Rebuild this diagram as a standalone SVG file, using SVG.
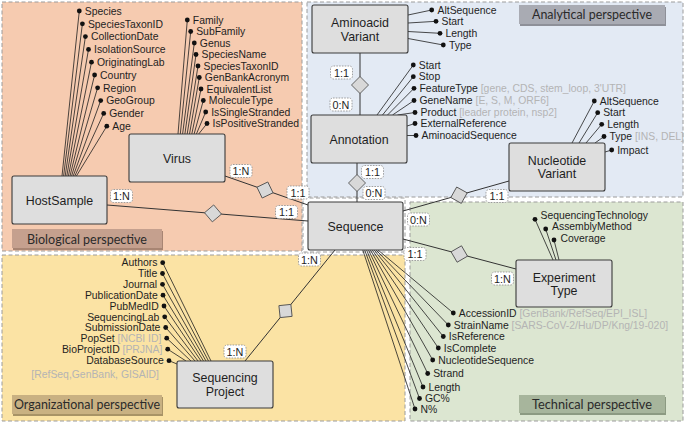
<svg xmlns="http://www.w3.org/2000/svg" width="685" height="423" viewBox="0 0 685 423">
<style>
text{font-family:"Liberation Sans",Arial,sans-serif;fill:#1e1e1e}
.reg{stroke:#9c9c9c;stroke-width:1;stroke-dasharray:4 2.5}
.box{fill:#dedede;stroke:#3a3a3a;stroke-width:1.1}
.nl{font-size:12.4px;text-anchor:middle}
.at{font-size:10.4px}
.atr{font-size:10.4px;text-anchor:end}
.g{fill:#b4b4b4}
.al{stroke:#1e1e1e;stroke-width:0.8;fill:none}
.cn{stroke:#333;stroke-width:1;fill:none}
.dot{fill:#111}
.card use{fill:#fff;stroke:#8a8a8a;stroke-width:0.8;stroke-dasharray:1.6 1.2}
.card text{font-size:10.8px;text-anchor:middle}
.dia{fill:#d8d8d8;stroke:#555;stroke-width:0.9;stroke-linejoin:round}
.pl{font-family:Lato,"Open Sans",sans-serif;font-size:13px;text-anchor:middle;fill:#2a2a2a}
</style>
<defs>
<path id="dm" d="M-8.5,0 L0,-8.5 L8.5,0 L0,8.5 Z"/>
<rect id="c1" x="-11" y="-6.5" width="22" height="13" rx="3"/>
</defs>

<g id="regions">
<rect class="reg" x="2" y="2" width="300" height="249" fill="#f6cbb0"/>
<rect class="reg" x="307" y="2" width="376" height="195" fill="#e3eaf4"/>
<rect class="reg" x="410" y="202" width="273" height="219" fill="#dce6d1"/>
<rect class="reg" x="2" y="255" width="403" height="166" fill="#fbe3a4"/>
<rect class="reg" x="303" y="198" width="102" height="54" fill="#ffffff"/>
</g>

<g id="perspective-labels">
<rect x="13" y="231" width="150" height="19" fill="#a88573"/>
<rect x="12" y="229" width="150" height="19" fill="#c5a08e"/>
<text class="pl" x="87" y="243.5" textLength="120" lengthAdjust="spacingAndGlyphs">Biological perspective</text>
<rect x="13" y="397" width="150" height="19" fill="#a89366"/>
<rect x="12" y="395" width="150" height="19" fill="#c9b182"/>
<text class="pl" x="87" y="409" textLength="146" lengthAdjust="spacingAndGlyphs">Organizational perspective</text>
<rect x="520" y="7" width="146" height="19" fill="#8e9098"/>
<rect x="519" y="5" width="146" height="19" fill="#a9abb3"/>
<text class="pl" x="592" y="19" textLength="120" lengthAdjust="spacingAndGlyphs">Analytical perspective</text>
<rect x="520" y="397" width="146" height="18" fill="#8c9a82"/>
<rect x="519" y="395" width="146" height="18" fill="#a7b59c"/>
<text class="pl" x="592" y="408.5" textLength="120" lengthAdjust="spacingAndGlyphs">Technical perspective</text>
</g>

<g id="connectors">
<line class="cn" x1="107" y1="205" x2="308" y2="221"/>
<line class="cn" x1="225" y1="176" x2="308" y2="205"/>
<line class="cn" x1="360" y1="53" x2="360" y2="115"/>
<line class="cn" x1="357" y1="163" x2="357" y2="202"/>
<line class="cn" x1="403" y1="211" x2="509" y2="181"/>
<line class="cn" x1="403" y1="239" x2="516" y2="269"/>
<line class="cn" x1="335" y1="250" x2="245" y2="361"/>
<use href="#dm" class="dia" transform="translate(213,213.4) rotate(4.6)"/>
<use href="#dm" class="dia" transform="translate(265,190) rotate(19.3)"/>
<use href="#dm" class="dia" transform="translate(360,85)"/>
<use href="#dm" class="dia" transform="translate(357,183)"/>
<use href="#dm" class="dia" transform="translate(459,195.2) rotate(-15.8)"/>
<use href="#dm" class="dia" transform="translate(459.3,254) rotate(14.9)"/>
<use href="#dm" class="dia" transform="translate(285.5,311) rotate(-51)"/>
<g class="card" transform="translate(121.5,196)"><use href="#c1"/><text y="4">1:N</text></g>
<g class="card" transform="translate(286.5,212)"><use href="#c1"/><text y="4">1:1</text></g>
<g class="card" transform="translate(241,171)"><use href="#c1"/><text y="4">1:N</text></g>
<g class="card" transform="translate(298,192.5)"><use href="#c1"/><text y="4">1:1</text></g>
<g class="card" transform="translate(341.5,72.5)"><use href="#c1"/><text y="4">1:1</text></g>
<g class="card" transform="translate(341,104.5)"><use href="#c1"/><text y="4">0:N</text></g>
<g class="card" transform="translate(372.5,172)"><use href="#c1"/><text y="4">1:1</text></g>
<g class="card" transform="translate(374,193)"><use href="#c1"/><text y="4">0:N</text></g>
<g class="card" transform="translate(497,196)"><use href="#c1"/><text y="4">1:1</text></g>
<g class="card" transform="translate(418.5,219.5)"><use href="#c1"/><text y="4">0:N</text></g>
<g class="card" transform="translate(415,254)"><use href="#c1"/><text y="4">1:1</text></g>
<g class="card" transform="translate(502.5,278.5)"><use href="#c1"/><text y="4">1:N</text></g>
<g class="card" transform="translate(309.5,259.5)"><use href="#c1"/><text y="4">1:N</text></g>
<g class="card" transform="translate(235,351.5)"><use href="#c1"/><text y="4">1:N</text></g>
</g>

<g id="HostSample">
<path class="al" d="M79.3,11L62,176M82.4,23.8L63.6,176M85.4,36.6L65.2,176M88.5,49.4L66.8,176M91.5,62.2L68.4,176M94.6,75L70,176M97.6,87.8L71.6,176M100.7,100.6L73.2,176M103.7,113.4L74.8,176M106.8,126.2L76.4,176"/>
<g class="dot">
<circle cx="79.3" cy="11" r="2.4"/><circle cx="82.4" cy="23.8" r="2.4"/><circle cx="85.4" cy="36.6" r="2.4"/><circle cx="88.5" cy="49.4" r="2.4"/><circle cx="91.5" cy="62.2" r="2.4"/><circle cx="94.6" cy="75" r="2.4"/><circle cx="97.6" cy="87.8" r="2.4"/><circle cx="100.7" cy="100.6" r="2.4"/><circle cx="103.7" cy="113.4" r="2.4"/><circle cx="106.8" cy="126.2" r="2.4"/>
</g>
<text class="at" x="84.8" y="14.7">Species</text>
<text class="at" x="87.9" y="27.5">SpeciesTaxonID</text>
<text class="at" x="90.9" y="40.3">CollectionDate</text>
<text class="at" x="94" y="53.1">IsolationSource</text>
<text class="at" x="97" y="65.9">OriginatingLab</text>
<text class="at" x="100.1" y="78.7">Country</text>
<text class="at" x="103.1" y="91.5">Region</text>
<text class="at" x="106.2" y="104.3">GeoGroup</text>
<text class="at" x="109.2" y="117.1">Gender</text>
<text class="at" x="112.3" y="129.9">Age</text>
<rect class="box" x="12" y="176" width="95" height="48" rx="2"/>
<text class="nl" x="59.5" y="204.5">HostSample</text>
</g>

<g id="Virus">
<path class="al" d="M187.3,20L178,134M190.7,31.5L180.3,134M194.3,43L182.6,134M196,54.5L184.9,134M198,66L187.2,134M199.3,77.5L189.5,134M201,89L191.8,134M203.3,100.5L194.1,134M205.7,112L196.4,134M207,123.5L198.7,134"/>
<g class="dot">
<circle cx="187.3" cy="20" r="2.4"/><circle cx="190.7" cy="31.5" r="2.4"/><circle cx="194.3" cy="43" r="2.4"/><circle cx="196" cy="54.5" r="2.4"/><circle cx="198" cy="66" r="2.4"/><circle cx="199.3" cy="77.5" r="2.4"/><circle cx="201" cy="89" r="2.4"/><circle cx="203.3" cy="100.5" r="2.4"/><circle cx="205.7" cy="112" r="2.4"/><circle cx="207" cy="123.5" r="2.4"/>
</g>
<text class="at" x="192.8" y="23.7">Family</text>
<text class="at" x="196.2" y="35.2">SubFamily</text>
<text class="at" x="199.8" y="46.7">Genus</text>
<text class="at" x="201.5" y="58.2">SpeciesName</text>
<text class="at" x="203.5" y="69.7">SpeciesTaxonID</text>
<text class="at" x="204.8" y="81.2">GenBankAcronym</text>
<text class="at" x="206.5" y="92.7">EquivalentList</text>
<text class="at" x="208.8" y="104.2">MoleculeType</text>
<text class="at" x="211.2" y="115.7">IsSingleStranded</text>
<text class="at" x="212.5" y="127.2">IsPositiveStranded</text>
<rect class="box" x="129" y="134" width="96" height="48" rx="2"/>
<text class="nl" x="177" y="162.5">Virus</text>
</g>

<g id="AminoacidVariant">
<path class="al" d="M408,15L431.7,10M408,23L436,21.3M408,31.5L440,33.3M408,38.5L443.3,45"/>
<g class="dot"><circle cx="431.7" cy="10" r="2.4"/><circle cx="436" cy="21.3" r="2.4"/><circle cx="440" cy="33.3" r="2.4"/><circle cx="443.3" cy="45" r="2.4"/></g>
<text class="at" x="437.5" y="13.7">AltSequence</text>
<text class="at" x="441.5" y="25">Start</text>
<text class="at" x="445.5" y="37">Length</text>
<text class="at" x="449" y="48.7">Type</text>
<rect class="box" x="312" y="5" width="96" height="48" rx="2"/>
<text class="nl" x="360" y="27">Aminoacid</text>
<text class="nl" x="360" y="40.5">Variant</text>
</g>

<g id="Annotation">
<path class="al" d="M413.3,65L377,115M413.3,76.7L382.5,115M414,88.3L387.5,115M414,100.5L392.5,115M415,112.5L397.5,115M407,126L415,123.5M407,135.5L416,135.5"/>
<g class="dot"><circle cx="413.3" cy="65" r="2.4"/><circle cx="413.3" cy="76.7" r="2.4"/><circle cx="414" cy="88.3" r="2.4"/><circle cx="414" cy="100.5" r="2.4"/><circle cx="415" cy="112.5" r="2.4"/><circle cx="415" cy="123.5" r="2.4"/><circle cx="416" cy="135.5" r="2.4"/></g>
<text class="at" x="418.8" y="68.7">Start</text>
<text class="at" x="418.8" y="80.4">Stop</text>
<text class="at" x="419.5" y="92">FeatureType <tspan class="g">[gene, CDS, stem_loop, 3'UTR]</tspan></text>
<text class="at" x="419.5" y="104.2">GeneName <tspan class="g">[E, S, M, ORF6]</tspan></text>
<text class="at" x="420.5" y="116.2">Product <tspan class="g">[leader protein, nsp2]</tspan></text>
<text class="at" x="420.5" y="127.2">ExternalReference</text>
<text class="at" x="421.5" y="139.2">AminoacidSequence</text>
<rect class="box" x="311" y="115" width="96" height="48" rx="2"/>
<text class="nl" x="359" y="143.5">Annotation</text>
</g>

<g id="NucleotideVariant">
<path class="al" d="M594.3,101L572,143M597.7,112.7L579,143M601.7,124.3L586,143M604,136.5L595,143M605,152L611.7,150"/>
<g class="dot"><circle cx="594.3" cy="101" r="2.4"/><circle cx="597.7" cy="112.7" r="2.4"/><circle cx="601.7" cy="124.3" r="2.4"/><circle cx="604" cy="136.5" r="2.4"/><circle cx="611.7" cy="150" r="2.4"/></g>
<text class="at" x="599.8" y="104.7">AltSequence</text>
<text class="at" x="603.2" y="116.4">Start</text>
<text class="at" x="607.2" y="128">Length</text>
<text class="at" x="609.5" y="140.2">Type <tspan class="g">[INS, DEL]</tspan></text>
<text class="at" x="617.2" y="153.7">Impact</text>
<rect class="box" x="509" y="143" width="96" height="48" rx="2"/>
<text class="nl" x="557" y="164.5">Nucleotide</text>
<text class="nl" x="557" y="178">Variant</text>
</g>

<g id="Sequence">
<path class="al" d="M453.3,313L378,250M448.3,325L376.1,250M443.3,336.5L374.2,250M438.3,348L372.3,250M432.7,360L370.4,250M427.7,373.5L368.5,250M423,387L366.6,250M419.5,398.5L364.7,250M415,409L362.8,250"/>
<g class="dot"><circle cx="453.3" cy="313" r="2.4"/><circle cx="448.3" cy="325" r="2.4"/><circle cx="443.3" cy="336.5" r="2.4"/><circle cx="438.3" cy="348" r="2.4"/><circle cx="432.7" cy="360" r="2.4"/><circle cx="427.7" cy="373.5" r="2.4"/><circle cx="423" cy="387" r="2.4"/><circle cx="419.5" cy="398.5" r="2.4"/><circle cx="415" cy="409" r="2.4"/></g>
<text class="at" x="458.8" y="316.7">AccessionID <tspan class="g">[GenBank/RefSeq/EPI_ISL]</tspan></text>
<text class="at" x="453.8" y="328.7">StrainName <tspan class="g">[SARS-CoV-2/Hu/DP/Kng/19-020]</tspan></text>
<text class="at" x="448.8" y="340.2">IsReference</text>
<text class="at" x="443.8" y="351.7">IsComplete</text>
<text class="at" x="438.2" y="363.7">NucleotideSequence</text>
<text class="at" x="433.2" y="377.2">Strand</text>
<text class="at" x="428.5" y="390.7">Length</text>
<text class="at" x="425" y="402.2">GC%</text>
<text class="at" x="420.5" y="412.7">N%</text>
<rect class="box" x="308" y="202" width="95" height="48" rx="2"/>
<text class="nl" x="355.5" y="230.5">Sequence</text>
</g>

<g id="ExperimentType">
<path class="al" d="M535,219.3L553,260M545.7,229L556,260M554,240L559,260"/>
<g class="dot"><circle cx="535" cy="219.3" r="2.4"/><circle cx="545.7" cy="229" r="2.4"/><circle cx="554" cy="240" r="2.4"/></g>
<text class="at" x="540.5" y="218.7">SequencingTechnology</text>
<text class="at" x="552" y="230.4">AssemblyMethod</text>
<text class="at" x="560.5" y="242">Coverage</text>
<rect class="box" x="516" y="260" width="96" height="47" rx="2"/>
<text class="nl" x="564" y="281.5">Experiment</text>
<text class="nl" x="564" y="295">Type</text>
</g>

<g id="SequencingProject">
<path class="al" d="M162.7,262.7L211,361M162.5,273.5L208.5,361M162.5,284.3L206,361M163,295.2L203.5,361M164,306L201,361M164.7,316.8L198,361M165.7,327.5L195,361M166.7,338.2L191,361M167.7,349.2L186,361M169,360.7L177,364"/>
<g class="dot"><circle cx="162.7" cy="262.7" r="2.4"/><circle cx="162.5" cy="273.5" r="2.4"/><circle cx="162.5" cy="284.3" r="2.4"/><circle cx="163" cy="295.2" r="2.4"/><circle cx="164" cy="306" r="2.4"/><circle cx="164.7" cy="316.8" r="2.4"/><circle cx="165.7" cy="327.5" r="2.4"/><circle cx="166.7" cy="338.2" r="2.4"/><circle cx="167.7" cy="349.2" r="2.4"/><circle cx="169" cy="360.7" r="2.4"/></g>
<text class="atr" x="157.4" y="266.4">Authors</text>
<text class="atr" x="157.2" y="277.2">Title</text>
<text class="atr" x="157.2" y="288">Journal</text>
<text class="atr" x="157.7" y="298.9">PublicationDate</text>
<text class="atr" x="158.7" y="309.7">PubMedID</text>
<text class="atr" x="159.4" y="320.5">SequencingLab</text>
<text class="atr" x="160.4" y="331.2">SubmissionDate</text>
<text class="atr" x="161.4" y="341.9">PopSet <tspan class="g">[NCBI ID]</tspan></text>
<text class="atr" x="162.4" y="352.9">BioProjectID <tspan class="g">[PRJNA]</tspan></text>
<text class="atr" x="163.7" y="364.4">DatabaseSource</text>
<text class="atr g" x="159" y="377.7">[RefSeq,GenBank, GISAID]</text>
<rect class="box" x="177" y="361" width="96" height="47" rx="2"/>
<text class="nl" x="225" y="381.5">Sequencing</text>
<text class="nl" x="225" y="395.5">Project</text>
</g>
</svg>
